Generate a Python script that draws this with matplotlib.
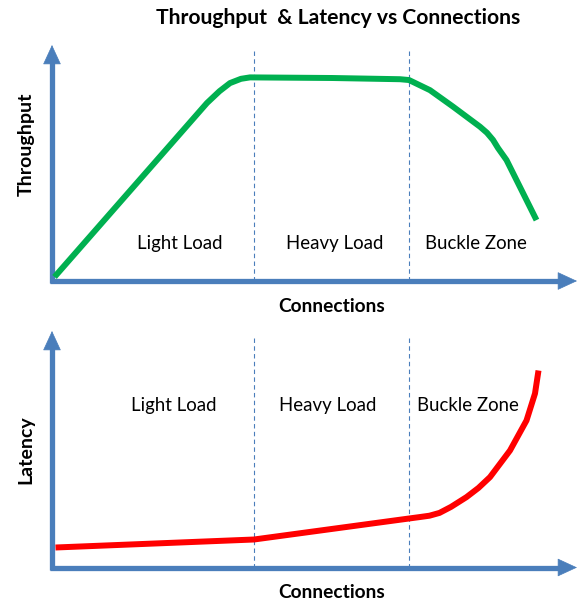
import matplotlib
matplotlib.use("Agg")
import matplotlib.pyplot as plt

plt.rcParams['font.family'] = ['Lato', 'DejaVu Sans']

# conceptual curves, connections on a 0-100 scale
zones = ['Light Load', 'Heavy Load', 'Buckle Zone']
zone_edges = [40.4, 71.4]

tp_conn = [0.5, 31, 33.5, 35.6, 37.8, 39.6, 56, 69.6, 71.4, 75.6, 80.2, 85.6, 87, 88.2, 89.2, 90.9, 96.9]
tp_vals = [2, 87.7, 93.5, 97.5, 99.6, 100.3, 100, 99.4, 99, 94, 85.9, 76, 73, 69.5, 65.5, 59.6, 30]

lat_conn = [0.7, 40.4, 71.4, 73.5, 75.5, 77.5, 79.8, 82.9, 85.3, 87.6, 91.6, 94.9, 96.6, 97.3]
lat_vals = [10, 14, 24.5, 25.2, 25.9, 27.3, 30.3, 35.2, 39.8, 45.2, 58.5, 73.5, 87, 98.5]

title = 'Throughput  & Latency vs Connections'
xlab = 'Connections'
ylabs = ['Throughput', 'Latency']

W, H = 584, 606
fig = plt.figure(figsize=(W / 100, H / 100), dpi=100)

AX_BLUE = '#4a7ebb'


def px(x, y):
  return x / W, 1 - y / H


def make_panel(top_px, bottom_px, tip_px, dash_px, conn, vals, color, label_xs, label_y):
  ax = fig.add_axes([52 / W, 1 - bottom_px / H, 500 / W, (bottom_px - top_px) / H])
  ax.set_xlim(0, 100)
  ax.set_ylim(0, 100)
  ax.axis('off')
  unit = (bottom_px - top_px) / 100.0
  ytip = (bottom_px - tip_px) / unit
  ydash = (bottom_px - dash_px) / unit
  xtip = (577 - 52) / 5.0

  # divider lines
  for e in zone_edges:
    ax.plot([e, e], [0, ydash], color=AX_BLUE, lw=0.8, ls=(0, (4, 3)), clip_on=False)

  # axes arrows
  ax.plot([-0.4, xtip - 3], [0, 0], color=AX_BLUE, lw=3.8, solid_capstyle='butt', clip_on=False)
  ax.plot([0, 0], [-1, ytip - 6], color=AX_BLUE, lw=3.8, solid_capstyle='butt', clip_on=False)
  arrow = dict(arrowstyle='-|>,head_length=1.3,head_width=0.6',
               color=AX_BLUE, lw=0.5, shrinkA=0, shrinkB=0, mutation_scale=10)
  ax.annotate('', xy=(xtip, 0), xytext=(xtip - 5, 0), arrowprops=arrow, annotation_clip=False)
  ax.annotate('', xy=(0, ytip), xytext=(0, ytip - 10), arrowprops=arrow, annotation_clip=False)

  ax.plot(conn, vals, color=color, lw=4.3, solid_capstyle='butt', solid_joinstyle='round',
          clip_on=False)

  for name, xc in zip(zones, label_xs):
    ax.text(xc, label_y, name, ha='center', va='center', fontsize=13.4, color='black')
  return ax


make_panel(78, 281, 45, 50, tp_conn, tp_vals, '#00b050', [25.6, 56.6, 84.8], 18.7)
make_panel(367.5, 567.5, 331, 337, lat_conn, lat_vals, '#ff0000', [24.3, 55.2, 83.1], 81)

fig.text(*px(338, 18), title, ha='center', va='center', fontsize=15.2, fontweight='bold')
fig.text(*px(332, 306), xlab, ha='center', va='center', fontsize=13.8, fontweight='bold')
fig.text(*px(332, 593), xlab, ha='center', va='center', fontsize=13.8, fontweight='bold')
fig.text(*px(26, 144), ylabs[0], ha='center', va='center', rotation=90, fontsize=14, fontweight='bold')
fig.text(*px(26, 450), ylabs[1], ha='center', va='center', rotation=90, fontsize=14, fontweight='bold')

fig.savefig('out.png', dpi=100, facecolor='white')
